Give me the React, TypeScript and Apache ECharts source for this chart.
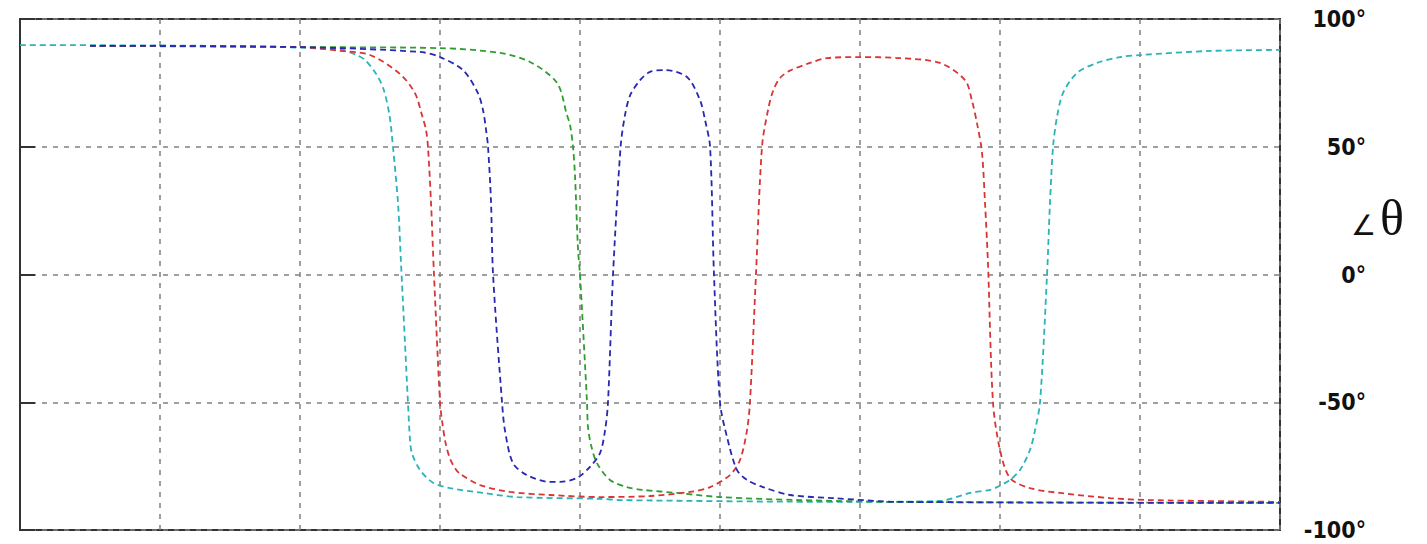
import React, { useEffect, useRef } from "react";
import * as echarts from "echarts";

// x positions are in grid units (0..9), y values in degrees
const cyanData: [number, number][] = [
  [0, 89.8], [1.5, 89.4], [2.29, 88.0], [2.4, 86.0], [2.464, 84.0], [2.55, 78.0],
  [2.6, 72.0], [2.64, 62.0], [2.664, 50.0], [2.7, 28.0], [2.721, 5.0], [2.771, -50.0],
  [2.786, -64.8], [2.8, -70.0], [2.857, -76.5], [2.95, -81.5], [3.071, -83.6], [3.307, -85.5],
  [3.55, -87.1], [4.143, -87.8], [4.286, -88.3], [5.929, -89.0], [6.571, -88.6],
  [6.786, -85.5], [6.929, -84.3], [6.979, -83.2], [7.071, -80.4], [7.143, -76.5],
  [7.214, -68.7], [7.25, -61.0], [7.286, -50.0], [7.336, 0], [7.357, 28.0],
  [7.379, 50.0], [7.407, 61.6], [7.45, 71.0], [7.55, 78.9], [7.693, 82.8],
  [7.857, 85.1], [8.0, 85.9], [8.5, 87.5], [9.0, 87.9],
];

const greenData: [number, number][] = [
  [0.5, 89.5], [2.0, 89.0], [3.0, 88.6], [3.429, 86.7], [3.643, 83.2], [3.836, 75.0],
  [3.907, 62.4], [3.929, 58.5], [3.95, 50.0], [3.964, 39.0], [3.986, 9.6],
  [4.0, 0], [4.05, -50.0], [4.057, -59.7], [4.08, -67.0], [4.121, -73.8], [4.214, -80.4],
  [4.336, -83.2], [4.45, -84.3], [4.693, -85.5], [5.0, -87.1], [5.571, -88.3],
  [6.286, -89.0], [9.0, -89.4],
];

const redData: [number, number][] = [
  [0.5, 89.5], [2.0, 89.0], [2.29, 87.5], [2.5, 85.9], [2.714, 78.5], [2.821, 71.0],
  [2.871, 62.4], [2.9, 56.6], [2.914, 50.0], [2.936, 28.0], [2.957, 0],
  [3.0, -50.0], [3.014, -57.0], [3.04, -66.0], [3.071, -72.0], [3.11, -76.0],
  [3.143, -78.0], [3.286, -82.4],
  [3.5, -85.1], [3.786, -86.3], [4.143, -87.1], [4.5, -86.7], [4.786, -85.1],
  [4.929, -83.2], [5.071, -78.5], [5.143, -72.6], [5.193, -60.9], [5.214, -50.0],
  [5.257, 0], [5.3, 50.0], [5.343, 64.4], [5.38, 72.0], [5.43, 77.0], [5.5, 79.8],
  [5.643, 82.8], [5.764, 84.7], [6.0, 85.1], [6.286, 84.7], [6.571, 82.8],
  [6.75, 76.1], [6.8, 68.0], [6.84, 58.0], [6.871, 48.0], [6.893, 28.0], [6.914, 4.5],
  [6.95, -50.0], [7.0, -68.7], [7.071, -79.6], [7.214, -83.6], [7.429, -85.5],
  [7.786, -87.5], [8.071, -88.3], [9.0, -89.0],
];

const blueData: [number, number][] = [
  [0.5, 89.5], [2.0, 89.0], [2.857, 87.1], [3.0, 85.1], [3.164, 80.0], [3.271, 71.0],
  [3.307, 64.4], [3.329, 56.6], [3.343, 50.0], [3.364, 29.0], [3.379, 0],
  [3.443, -50.0], [3.464, -61.0], [3.521, -73.8], [3.621, -78.5], [3.786, -81.2],
  [3.857, -81.2], [3.979, -79.6], [4.071, -75.3], [4.143, -69.9], [4.179, -61.0],
  [4.2, -50.0], [4.236, 0], [4.29, 50.0], [4.32, 62.0], [4.357, 70.0], [4.429, 76.1],
  [4.5, 79.3], [4.607, 80.0], [4.764, 77.3], [4.857, 68.3], [4.893, 60.5],
  [4.929, 50.0], [4.957, 0], [5.0, -50.0], [5.05, -63.6], [5.121, -76.5],
  [5.193, -80.4], [5.307, -83.2], [5.5, -86.3], [5.807, -87.5], [6.286, -89.0],
  [9.0, -89.4],
];

const yTicks = { min: -100, max: 100, interval: 50 };
const xTicks = { min: 0, max: 9, interval: 1 };

export default function App() {
  const ref = useRef<HTMLDivElement>(null);
  useEffect(() => {
    if (!ref.current) return;
    const chart = echarts.init(ref.current, undefined, { renderer: "svg" });
    const dash = [6, 4];
    const mk = (name: string, data: [number, number][], color: string) => ({
      name,
      type: "line",
      data,
      showSymbol: false,
      smooth: 0.3,
      lineStyle: { color, width: 1.8, type: dash },
      z: 3,
    });
    chart.setOption({
      animation: false,
      backgroundColor: "#ffffff",
      grid: {
        left: 20,
        top: 19,
        right: 147,
        bottom: 14,
        show: true,
        borderColor: "#333333",
        borderWidth: 2,
        backgroundColor: "transparent",
      },
      xAxis: {
        type: "value",
        min: xTicks.min,
        max: xTicks.max,
        interval: xTicks.interval,
        axisLine: { show: false },
        axisTick: { show: false },
        axisLabel: { show: false },
        splitLine: { show: true, lineStyle: { color: "#808080", width: 1.5, type: [5, 6] } },
      },
      yAxis: {
        type: "value",
        position: "right",
        min: yTicks.min,
        max: yTicks.max,
        interval: yTicks.interval,
        axisLine: { show: true, lineStyle: { color: "#333333", width: 2 } },
        axisTick: { show: true, inside: false, length: 15, lineStyle: { color: "#333333", width: 2 } },
        axisLabel: {
          show: true,
          margin: 86,
          align: "right",
          formatter: (v: number) => `${v}°`,
          fontFamily: "'DejaVu Sans Condensed', 'DejaVu Sans', sans-serif",
          fontWeight: "bold",
          fontSize: 23,
          color: "#111111",
        },
        splitLine: { show: true, lineStyle: { color: "#808080", width: 1.5, type: [5, 6] } },
      },
      graphic: [
        {
          type: "text",
          left: 1351,
          top: 211,
          style: {
            text: "∠",
            font: "28px 'DejaVu Sans'",
            fill: "#111111",
          },
        },
        {
          type: "text",
          left: 1380,
          top: 193,
          style: {
            text: "θ",
            font: "50px 'Liberation Serif'",
            fill: "#111111",
          },
        },
      ],
      series: [
        mk("cyan", cyanData, "#2bb3b8"),
        mk("green", greenData, "#2e9e2e"),
        mk("red", redData, "#d93535"),
        mk("blue", blueData, "#2828b0"),
      ],
    });
    return () => chart.dispose();
  }, []);
  return (
    <div
      ref={ref}
      style={{ position: "fixed", left: 0, top: 0, width: 1427, height: 544 }}
    />
  );
}
